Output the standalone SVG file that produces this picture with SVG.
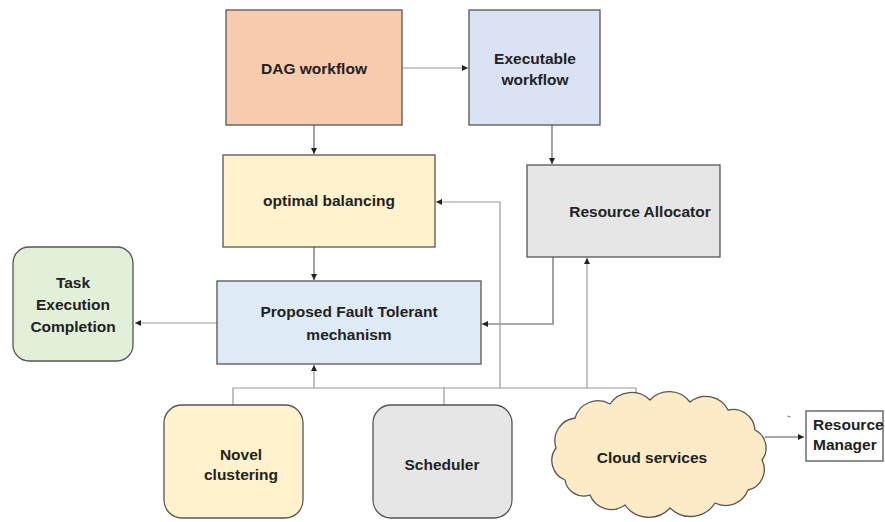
<svg xmlns="http://www.w3.org/2000/svg" width="885" height="522" viewBox="0 0 885 522">
  <defs>
    <marker id="ah" viewBox="0 0 6 6" refX="6" refY="3" markerWidth="6" markerHeight="6" orient="auto" markerUnits="userSpaceOnUse">
      <path d="M0,0 L6,3 L0,6 Z" fill="#222"/>
    </marker>
    <style>
      .box { stroke: #555; stroke-width: 1.3; }
      .lbl { font-family: "Liberation Sans", Arial, sans-serif; font-weight: bold; font-size: 15.5px; fill: #222; text-anchor: middle; }
      .wire { fill: none; stroke: #999; stroke-width: 1.2; }
      .wire-d { fill: none; stroke: #555; stroke-width: 1.1; }
    </style>
  </defs>
  <rect width="885" height="522" fill="#fff"/>

  <!-- connectors -->
  <g id="connectors">
    <path class="wire" d="M402,68 H468" marker-end="url(#ah)"/>
    <path class="wire-d" d="M314,125 V154" marker-end="url(#ah)"/>
    <path class="wire-d" d="M552,125 V164" marker-end="url(#ah)"/>
    <path class="wire-d" d="M314,247 V280" marker-end="url(#ah)"/>
    <path class="wire" d="M217,323 H135" marker-end="url(#ah)"/>
    <path class="wire-d" d="M553,257 V324 H482" marker-end="url(#ah)"/>
    <!-- shared bus under the mechanism -->
    <path class="wire" d="M233,405 V388 H636 V402" marker-end="url(#ah)"/>
    <path class="wire" d="M314,388 V365" marker-end="url(#ah)"/>
    <path class="wire" d="M444,405 V388"/>
    <path class="wire" d="M500,388 V202 H436" marker-end="url(#ah)"/>
    <path class="wire" d="M587,388 V258" marker-end="url(#ah)"/>
    <path class="wire-d" d="M765,437 H804" marker-end="url(#ah)"/>
    <path d="M787,416 L791,417" stroke="#888" stroke-width="1"/>
  </g>

  <g id="dag">
    <rect class="box" x="226" y="10" width="176" height="115" fill="#F8CBAD"/>
    <text class="lbl" x="314" y="74">DAG workflow</text>
  </g>

  <g id="executable">
    <rect class="box" x="469" y="10" width="131" height="115" fill="#DAE3F3"/>
    <text class="lbl" x="535" y="64">Executable</text>
    <text class="lbl" x="535" y="85">workflow</text>
  </g>

  <g id="balancing">
    <rect class="box" x="223" y="155" width="212" height="92" fill="#FFF2CC"/>
    <text class="lbl" x="329" y="206">optimal balancing</text>
  </g>

  <g id="allocator">
    <rect class="box" x="527" y="165" width="193" height="92" fill="#E6E6E6"/>
    <text class="lbl" x="640" y="217">Resource Allocator</text>
  </g>

  <g id="mechanism">
    <rect class="box" x="217" y="281" width="264" height="83" fill="#DEEBF7"/>
    <text class="lbl" x="349" y="317">Proposed Fault Tolerant</text>
    <text class="lbl" x="349" y="340">mechanism</text>
  </g>

  <g id="completion">
    <rect class="box" x="13" y="247" width="120" height="114" rx="16" fill="#E2F0D9"/>
    <text class="lbl" x="73" y="288">Task</text>
    <text class="lbl" x="73" y="310">Execution</text>
    <text class="lbl" x="73" y="332">Completion</text>
  </g>

  <g id="clustering">
    <rect class="box" x="164" y="405" width="139" height="113" rx="18" fill="#FFF2CC"/>
    <text class="lbl" x="241" y="460">Novel</text>
    <text class="lbl" x="241" y="480">clustering</text>
  </g>

  <g id="scheduler">
    <rect class="box" x="373" y="405" width="139" height="113" rx="18" fill="#E6E6E6"/>
    <text class="lbl" x="442" y="470">Scheduler</text>
  </g>

  <g id="cloud">
    <path class="box" fill="#FCEBC6" d="M556,448 A23,23 0 0 1 575,418 A24,24 0 0 1 610,404 A26,26 0 0 1 650,400 A26,26 0 0 1 690,402 A25,25 0 0 1 728,410 A22,22 0 0 1 755,430 A20,20 0 0 1 762,460 A21,21 0 0 1 748,490 A24,24 0 0 1 715,503 A29,29 0 0 1 670,508 A29,29 0 0 1 625,505 A23,23 0 0 1 590,495 A19,19 0 0 1 565,480 A21,21 0 0 1 556,448 Z"/>
    <text class="lbl" x="652" y="463">Cloud services</text>
  </g>

  <g id="manager">
    <rect class="box" x="806" y="411" width="77" height="50" fill="#fff"/>
    <text class="lbl" x="813" y="430" style="text-anchor:start">Resource</text>
    <text class="lbl" x="813" y="450" style="text-anchor:start">Manager</text>
  </g>
</svg>
